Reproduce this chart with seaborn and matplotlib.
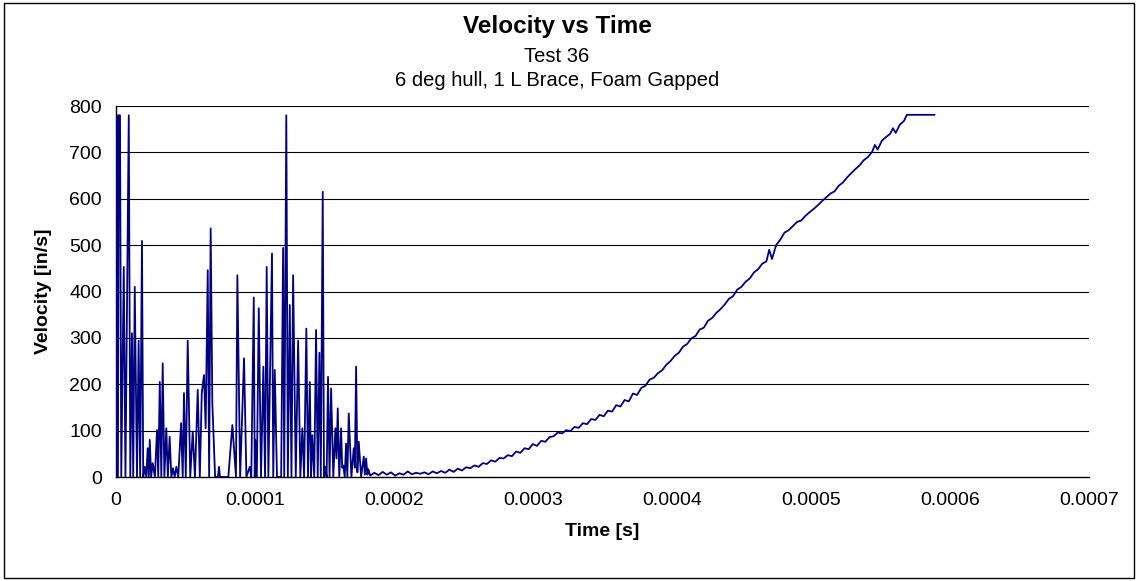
import numpy as np
import pandas as pd
import seaborn as sns
import matplotlib
matplotlib.use("Agg")
import matplotlib.pyplot as plt
from matplotlib.patches import Rectangle

# ---------------- data (time in microseconds, velocity in in/s) ----------------
noise_t = [0.2, 0.9, 1.6, 2.2, 3.1, 4.0, 5.8, 7.0, 9.4, 10.5, 11.7, 12.6, 13.7, 15.3,
           16.5, 17.6, 18.9, 19.8, 20.9, 22.0, 23.0, 23.8, 24.5, 25.5, 26.6, 28.2,
           29.7, 30.6, 31.7, 32.8, 33.8, 35.0, 36.4, 37.5, 38.8, 40.0, 41.2, 42.4,
           43.6, 45.0, 47.0, 48.2, 49.1, 50.4, 51.8, 53.6, 55.4, 57.0, 59.0, 60.5,
           61.9, 63.5, 64.7, 66.2, 67.2, 68.3, 69.5, 71.5, 73.5, 74.3, 75.0, 81.0,
           83.9, 86.5, 87.5, 89.5, 92.3, 94.0, 96.4, 97.5, 99.3, 100.0, 100.4, 101.5,
           102.9, 104.5, 106.2, 107.4, 108.6, 109.8, 112.4, 113.3, 114.4, 116.0, 119.0,
           120.4, 121.2, 122.7, 123.8, 125.2, 126.4, 127.6, 129.5, 131.2, 132.8, 134.2,
           135.5, 137.1, 138.3, 139.6, 140.5, 141.4, 142.8, 144.1, 145.3, 146.5, 147.5,
           148.9, 149.8, 150.8, 151.7, 152.7, 153.8, 154.9, 156.5, 158.0, 158.8, 159.7,
           160.8, 162.1, 162.9, 163.7, 164.7, 165.7, 166.6, 167.6, 169.5, 171.2, 172.0,
           172.9, 173.8, 174.8, 176.5, 178.4, 179.2, 180.1, 181.0, 181.7]
noise_v = [0, 780, 0, 780, 780, 0, 453, 0, 780, 0, 310, 0, 410, 0,
           294, 0, 509, 0, 22, 0, 62, 0, 80, 0, 30, 0,
           101, 0, 205, 0, 245, 0, 105, 0, 87, 0, 19, 0,
           22, 0, 116, 0, 181, 0, 294, 0, 98, 0, 188, 0,
           181, 220, 105, 446, 0, 536, 159, 0, 0, 22, 0, 0,
           112, 0, 435, 0, 256, 0, 22, 0, 387, 0, 80, 0,
           364, 0, 238, 0, 453, 0, 482, 0, 231, 0, 0,
           494, 0, 780, 0, 371, 0, 435, 0, 294, 0, 105,
           0, 320, 0, 205, 0, 90, 0, 317, 0, 268, 0,
           615, 0, 22, 0, 216, 0, 191, 0, 105, 40, 148,
           0, 105, 20, 25, 0, 72, 0, 137, 0, 62, 20,
           238, 10, 76, 0, 44, 5, 40, 5, 17]

curve_t = [183, 186, 189, 192, 195, 198, 201, 204, 207, 210, 213, 216, 219, 222, 225,
           228, 231, 234, 237, 240, 243, 246, 249, 252, 255, 258, 261, 264, 267, 270,
           273, 276, 279, 282, 285, 288, 291, 294, 297, 300, 303, 306, 309, 312, 315,
           318, 321, 324, 327, 330, 333, 336, 339, 342, 345, 348, 351, 354, 357, 360,
           363, 366, 369, 372, 375, 378, 381, 384, 387, 390, 393, 396, 399, 402, 405,
           408, 411, 414, 417, 420, 423, 426, 429, 432, 435, 438, 441, 444, 447, 450,
           453, 456, 459, 462, 465, 468, 470, 472, 475, 478, 481, 484, 487, 490, 493,
           496, 499, 502, 505, 508, 511, 514, 517, 520, 523, 526, 529, 532, 535, 538,
           541, 544, 546, 548, 551, 554, 557, 559, 561, 564, 567, 569, 575, 580, 585, 589]
curve_v = [3, 9, 4, 11, 5, 10, 3, 8, 5, 12, 6, 9, 7, 10, 6,
           12, 8, 13, 9, 16, 11, 18, 14, 21, 19, 25, 22, 30, 28, 36,
           33, 41, 40, 47, 45, 55, 52, 62, 60, 71, 67, 78, 76, 86, 88,
           96, 94, 101, 99, 108, 106, 116, 114, 125, 123, 134, 131, 143, 141, 155,
           152, 166, 163, 180, 177, 192, 197, 210, 214, 224, 230, 242, 250, 261, 268,
           281, 287, 299, 304, 318, 322, 337, 343, 354, 362, 372, 384, 390, 404, 410,
           421, 428, 441, 448, 460, 465, 490, 470, 500, 512, 527, 532, 541, 550, 553,
           563, 571, 578, 586, 595, 603, 611, 616, 628, 635, 646, 655, 664, 672, 683,
           690, 701, 716, 706, 725, 733, 740, 752, 742, 760, 768, 781, 781, 781, 781, 781]

x_ticks = [0, 0.0001, 0.0002, 0.0003, 0.0004, 0.0005, 0.0006, 0.0007]
x_tick_labels = ["0", "0.0001", "0.0002", "0.0003", "0.0004", "0.0005", "0.0006", "0.0007"]
y_ticks = [0, 100, 200, 300, 400, 500, 600, 700, 800]

# ---------------- figure ----------------
sns.set_theme(style="white")
plt.rcParams['font.family'] = ['Liberation Sans', 'DejaVu Sans']
plt.rcParams['text.color'] = 'black'
plt.rcParams['axes.labelcolor'] = 'black'
plt.rcParams['xtick.color'] = 'black'
plt.rcParams['ytick.color'] = 'black'

df = pd.DataFrame({
    "t": np.array(noise_t + curve_t) * 1e-6,
    "v": noise_v + curve_v,
})

W, H = 1138, 581
fig = plt.figure(figsize=(W / 100, H / 100), dpi=100)
fig.patch.set_facecolor("white")
left, right, top, bottom = 115.7, 1089, 106, 477
ax = fig.add_axes([left / W, (H - bottom) / H, (right - left) / W, (bottom - top) / H])

for yv in y_ticks[1:]:
    ax.axhline(yv, color="black", lw=0.8, zorder=1)

sns.lineplot(data=df, x="t", y="v", sort=False, estimator=None, ax=ax,
             color="#000080", lw=1.3, zorder=3)

ax.set_xlim(0, 0.0007)
ax.set_ylim(0, 800)
ax.set_xticks(x_ticks)
ax.set_xticklabels(x_tick_labels)
ax.set_yticks(y_ticks)
ax.tick_params(axis="both", direction="out", length=5, width=1, color="black",
               labelsize=14, labelcolor="black", pad=6)
ax.tick_params(axis="y", pad=5)
for s in ["top", "right"]:
    ax.spines[s].set_visible(False)
for s in ["left", "bottom"]:
    ax.spines[s].set_color("black")
    ax.spines[s].set_linewidth(1.0)
ax.set_xlabel("Time [s]", fontsize=14, fontweight="bold", labelpad=10, color="black")
ax.set_ylabel("Velocity [in/s]", fontsize=14, fontweight="bold", labelpad=12, color="black")
ax.grid(False)

cx = 557 / W
fig.text(cx, 1 - 26 / H, "Velocity vs Time", ha="center", va="center",
         fontsize=17.5, fontweight="bold", color="black")
fig.text(cx, 1 - 56 / H, "Test 36", ha="center", va="center", fontsize=14.5,
         color="black")
fig.text(cx, 1 - 80 / H, "6 deg hull, 1 L Brace, Foam Gapped", ha="center",
         va="center", fontsize=14.5, color="black")

fig.patches.append(Rectangle((4 / W, 3 / H), (W - 8) / W, (H - 6) / H,
                             transform=fig.transFigure, fill=False,
                             edgecolor="black", lw=1.0))

fig.savefig("out.png", dpi=100, facecolor="white")
